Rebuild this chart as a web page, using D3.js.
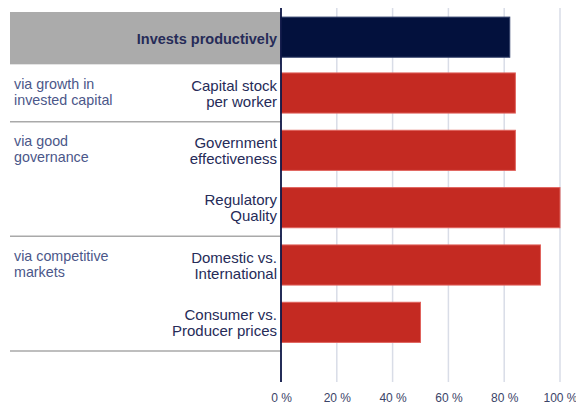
<!DOCTYPE html>
<html>
<head>
<meta charset="utf-8">
<script src="https://cdn.jsdelivr.net/npm/d3@7"></script>
<style>
  html, body { margin: 0; padding: 0; background: #ffffff; }
  svg { display: block; font-family: "Liberation Sans", Arial, sans-serif; }
</style>
</head>
<body>
<svg id="chart" width="576" height="405"></svg>
<script>
// Row labels (each split over two lines), top row is the headline indicator
const categories = [
  ["Invests productively"],
  ["Capital stock", "per worker"],
  ["Government", "effectiveness"],
  ["Regulatory", "Quality"],
  ["Domestic vs.", "International"],
  ["Consumer vs.", "Producer prices"]
];
// Score of each row, in percent
const values = [82, 84, 84, 100, 93, 50];

// Grouping of rows on the left side
const groupLabels = [
  ["via growth in", "invested capital"],
  ["via good", "governance"],
  ["via competitive", "markets"]
];
const groupFirstRow = [1, 2, 4];
const groupLastRow = [1, 3, 5];

const xTicks = [0, 20, 40, 60, 80, 100];

const svg = d3.select("#chart");
const keys = categories.map((c, i) => "r" + i);

const x = d3.scaleLinear().domain([0, 100]).range([281, 560]);
const y = d3.scaleBand().domain(keys).range([7, 351]).paddingInner(0.3).paddingOuter(0.15);
const step = y.step();
const slotTop = k => y(k) - y.paddingInner() * step / 2;
const slotBottom = k => slotTop(k) + step;
const plotTop = 8, plotBottom = 382;
const labelRight = 277, leftEdge = 10;

// Header band behind the headline row
svg.append("rect")
  .attr("x", leftEdge).attr("y", slotTop(keys[0]) + 5)
  .attr("width", x(0) - leftEdge).attr("height", slotBottom(keys[0]) - slotTop(keys[0]) - 5)
  .attr("fill", "#ababab");

// Vertical gridlines
svg.append("g").selectAll("line").data(xTicks.filter(d => d > 0)).join("line")
  .attr("x1", d => x(d)).attr("x2", d => x(d))
  .attr("y1", plotTop).attr("y2", plotBottom)
  .attr("stroke", "#d9dde7").attr("stroke-width", 1.5);

// Separators under each group
svg.append("g").selectAll("line").data(groupLastRow).join("line")
  .attr("x1", leftEdge).attr("x2", x(0))
  .attr("y1", d => slotBottom(keys[d])).attr("y2", d => slotBottom(keys[d]))
  .attr("stroke", "#a9a9a9").attr("stroke-width", 1.5);

// Bars
svg.append("g").selectAll("rect").data(values).join("rect")
  .attr("x", x(0))
  .attr("y", (d, i) => y(keys[i]) + (i === 0 ? 1.5 : 0))
  .attr("width", d => x(d) - x(0))
  .attr("height", y.bandwidth())
  .attr("fill", (d, i) => i === 0 ? "#03113d" : "#c42a22")
  .attr("stroke", (d, i) => i === 0 ? "#33416b" : "#e0625c")
  .attr("stroke-width", 1);

// Zero axis line
svg.append("line")
  .attr("x1", x(0)).attr("x2", x(0))
  .attr("y1", plotTop).attr("y2", plotBottom)
  .attr("stroke", "#0d1646").attr("stroke-width", 1.8);

// Row labels, right-aligned against the axis
const rowLabels = svg.append("g").selectAll("text").data(categories).join("text")
  .attr("text-anchor", "end")
  .attr("font-size", (d, i) => i === 0 ? 14.5 : 15)
  .attr("fill", "#262b58")
  .attr("font-weight", (d, i) => i === 0 ? "bold" : "normal");
rowLabels.each(function(lines, i) {
  const cy = y(keys[i]) + y.bandwidth() / 2;
  const t = d3.select(this);
  if (lines.length === 1) {
    t.append("tspan").attr("x", labelRight).attr("y", cy + 8).text(lines[0]);
  } else {
    lines.forEach((s, j) => {
      t.append("tspan").attr("x", labelRight).attr("y", cy - 2.5 + j * 16).text(s);
    });
  }
});

// Group labels on the left
const grp = svg.append("g").selectAll("text").data(groupLabels).join("text")
  .attr("font-size", 14.3)
  .attr("fill", "#4b5789");
grp.each(function(lines, g) {
  const cy = y(keys[groupFirstRow[g]]) + y.bandwidth() / 2;
  const t = d3.select(this);
  lines.forEach((s, j) => {
    t.append("tspan").attr("x", 14).attr("y", cy - 4 + j * 16).text(s);
  });
});

// Percent axis at the bottom
const xAxis = d3.axisBottom(x).tickValues(xTicks).tickSize(0).tickPadding(0)
  .tickFormat(d => d + " %");
const ax = svg.append("g").attr("transform", `translate(0, ${plotBottom})`).call(xAxis);
ax.select(".domain").remove();
ax.selectAll("text")
  .attr("dy", null)
  .attr("y", 20)
  .attr("font-size", 12)
  .attr("font-family", "\"Liberation Sans\", Arial, sans-serif")
  .attr("fill", "#3b4468");
</script>
</body>
</html>
